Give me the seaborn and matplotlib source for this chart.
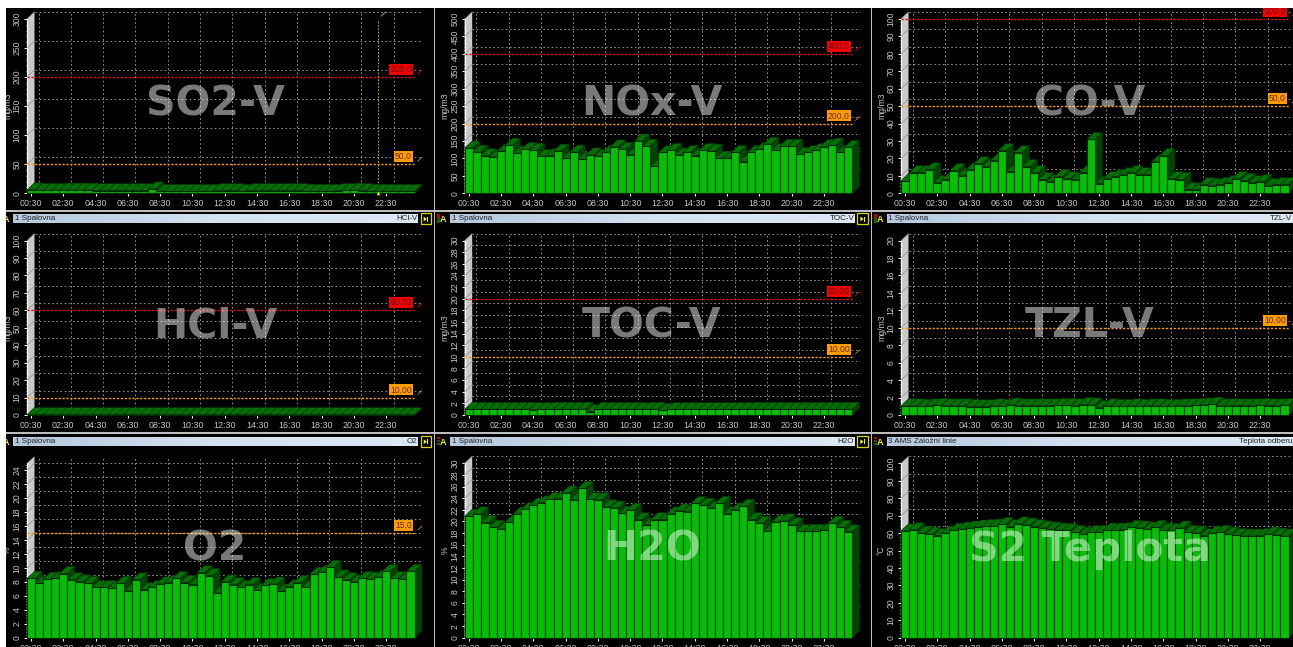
import matplotlib

matplotlib.use("Agg")
import matplotlib.pyplot as plt
import numpy as np
import pandas as pd
import seaborn as sns
from matplotlib.colors import LinearSegmentedColormap
from matplotlib.patches import Polygon, Rectangle
from matplotlib.ticker import AutoMinorLocator, MultipleLocator

W, H = 1293, 647

TIMES = [
    "00:30", "01:00", "01:30", "02:00", "02:30", "03:00", "03:30", "04:00",
    "04:30", "05:00", "05:30", "06:00", "06:30", "07:00", "07:30", "08:00",
    "08:30", "09:00", "09:30", "10:00", "10:30", "11:00", "11:30", "12:00",
    "12:30", "13:00", "13:30", "14:00", "14:30", "15:00", "15:30", "16:00",
    "16:30", "17:00", "17:30", "18:00", "18:30", "19:00", "19:30", "20:00",
    "20:30", "21:00", "21:30", "22:00", "22:30", "23:00", "23:30", "00:00",
]

SO2 = [6, 5, 5, 5, 5.5, 5.5, 5.5, 5.5, 4.5, 4.5, 4.5, 4.5,
       4.5, 4.5, 4.5, 7.5, 3.5, 3.5, 3.5, 3.5, 3.5, 3.5, 3.5, 4.5,
       4.5, 4.5, 3.5, 4.5, 4.5, 4.5, 4.5, 4.5, 4.5, 4.5, 3.5, 3.5,
       3.5, 3.5, 4.5, 5, 5.5, 4.5, 3.5, 3.5, 3.5, 3.5, 3.5, 3.5]
NOX = [130, 118, 108, 104, 121, 138, 115, 126, 123, 106, 108, 121,
       100, 118, 98, 110, 106, 118, 133, 126, 110, 150, 135, 77,
       117, 123, 110, 117, 108, 123, 121, 100, 101, 117, 91, 117,
       126, 141, 123, 135, 135, 112, 117, 123, 134, 138, 117, 132]
CO = [7.3, 11.8, 11.8, 13.5, 6.1, 7.8, 13, 10.1, 13.5, 17, 15.3, 18.7,
      24.4, 12.4, 23.3, 15.3, 11.8, 7.8, 6.7, 9.5, 8.4, 7.8, 11.8, 30.9,
      5.5, 8.4, 9.5, 10.7, 11.8, 10.7, 10.7, 18.1, 21.6, 8.4, 7.8, 2.1,
      2.1, 5, 4.4, 5, 6.1, 8.4, 7.3, 6.1, 6.7, 4.4, 5, 5]
HCL = [0.2, 0.2, 0.2, 0.2, 0.2, 0.2, 0.2, 0.2, 0.2, 0.2, 0.2, 0.2,
       0.2, 0.2, 0.2, 0.2, 0.2, 0.2, 0.2, 0.2, 0.2, 0.2, 0.2, 0.2,
       0.2, 0.2, 0.2, 0.2, 0.2, 0.2, 0.2, 0.2, 0.2, 0.2, 0.2, 0.2,
       0.2, 0.2, 0.2, 0.2, 0.2, 0.2, 0.2, 0.2, 0.2, 0.2, 0.2, 0.2]
TOC = [1.0, 1.0, 1.0, 1.0, 1.0, 1.0, 1.0, 1.0, 0.9, 0.95, 1.0, 1.0,
       1.0, 1.0, 1.0, 0.6, 1.0, 1.0, 1.0, 1.0, 1.0, 0.95, 1.0, 1.0,
       0.8, 0.95, 0.95, 0.95, 0.95, 0.95, 0.95, 0.95, 0.95, 0.95, 0.95, 1.0,
       1.0, 1.0, 1.0, 0.95, 0.95, 1.0, 0.95, 1.0, 1.0, 1.0, 1.0, 1.0]
TZL = [1.05, 1.05, 1.0, 1.05, 1.1, 1.05, 1.05, 1.05, 0.95, 0.95, 0.95, 1.05,
       1.0, 1.15, 1.05, 1.05, 1.05, 1.05, 1.05, 1.1, 1.1, 1.05, 1.2, 1.15,
       0.85, 1.05, 1.0, 1.0, 1.05, 1.0, 1.05, 1.05, 1.0, 1.0, 1.05, 1.05,
       1.1, 1.15, 1.25, 1.05, 1.05, 1.05, 1.05, 1.05, 1.1, 1.05, 1.05, 1.1]
O2 = [8.5, 7.8, 8.4, 8.5, 9.2, 8.3, 8.0, 7.8, 7.2, 7.2, 7.1, 7.8,
      6.7, 8.3, 6.9, 7.2, 7.7, 7.9, 8.5, 7.9, 7.6, 9.3, 8.9, 6.4,
      8.0, 7.6, 7.2, 7.6, 6.8, 7.5, 7.7, 6.7, 7.3, 7.9, 7.2, 9.1,
      9.4, 10.1, 8.7, 8.3, 8.0, 8.5, 8.4, 8.7, 9.5, 8.5, 8.4, 9.5]
H2O = [20.9, 21.3, 19.8, 19.0, 18.7, 19.9, 21.3, 22.1, 22.8, 23.2, 23.8, 23.9,
       24.9, 23.7, 25.7, 23.8, 23.7, 22.5, 22.3, 21.4, 21.9, 20.3, 19.4, 20.3,
       20.3, 21.3, 21.8, 21.7, 23.1, 22.8, 22.3, 23.1, 21.3, 22.0, 22.6, 20.3,
       19.7, 18.3, 19.9, 20.1, 19.4, 18.3, 18.3, 18.3, 18.5, 19.7, 19.0, 18.2]
S2 = [61.3, 61.9, 60, 59.4, 58.5, 60, 61.7, 62.3, 62.9, 63.5, 63.8, 64,
      65, 63.7, 65.2, 64.6, 63.7, 62.9, 62.3, 61.7, 61.5, 60.4, 59.4, 60.4,
      60.4, 61.7, 61.7, 61.9, 63.3, 62.9, 62.3, 63.3, 61.7, 61.5, 62.9, 60.4,
      60, 58.5, 60, 60.4, 59.4, 58.7, 58.3, 58.3, 58.5, 59.4, 58.8, 58.3]

SERIES = [SO2, NOX, CO, HCL, TOC, TZL, O2, H2O, S2]
NAMES = ["SO2-V", "NOx-V", "CO-V", "HCl-V", "TOC-V", "TZL-V", "O2", "H2O", "S2 Teplota"]
UNITS = ["mg/m3", "mg/m3", "mg/m3", "mg/m3", "mg/m3", "mg/m3", "%", "%", "°C"]
Y_MAX = [300, 500, 100, 100, 30, 20, 25, 30, 100]
Y_STEP = [50, 50, 10, 10, 2, 2, 2, 2, 10]
# (value, label, colour)
RED, ORANGE = "#f00000", "#ff9d00"
LIMITS = [
    [(200, "200,0", RED), (50, "50,0", ORANGE)],
    [(400, "400,0", RED), (200, "200,0", ORANGE)],
    [(100, "100,0", RED), (50, "50,0", ORANGE)],
    [(60, "60,00", RED), (10, "10,00", ORANGE)],
    [(20, "20,00", RED), (10, "10,00", ORANGE)],
    [(10, "10,00", ORANGE)],
    [(15, "15,0", ORANGE)],
    [],
    [],
]
SOURCE = [None, None, None, "1 Spalovna", "1 Spalovna", "1 Spalovna",
          "1 Spalovna", "1 Spalovna", "3 AMS Záložní linie"]
TAG = [None, None, None, "HCl-V", "TOC-V", "TZL-V", "O2", "H2O", "Teplota odberu"]
CURSOR_BAR = 43

COL_LEFT = [27, 464.7, 901]
ROW_BASE = [193.3, 415, 637.7]
PLOT_W, PLOT_H = 387.5, 174.4
DEPTH_X, DEPTH_Y = 7.5, 7
TEXT_X = [215, 652, 1090]
TEXT_Y = [104, 326, 549.5]
BAR_LEFT = [13, 450, 887]
BAR_RIGHT = [418, 854.7, 1293]
BAR_TOP = [None, 214, 436.7]
FONT = "Liberation Sans"
LABEL_COLOR = "#c4c4c4"
FRONT, TOP, SIDE, EDGE = "#00c000", "#007000", "#004400", "#002c00"

sns.set_theme(style="dark", rc={"axes.grid": False})
plt.rcParams["font.family"] = [FONT, "DejaVu Sans"]

fig = plt.figure(figsize=(W / 100, H / 100), dpi=100, facecolor="black")
bar_cmap = LinearSegmentedColormap.from_list("title", ["#b4c8de", "#d4e2f0", "#dce8f4"])


def box(x0, y0, x1, y1):
    # pixel box (y down) to figure rect
    return [x0 / W, 1 - y1 / H, (x1 - x0) / W, (y1 - y0) / H]


def fig_rect(x0, y0, x1, y1, zorder=5, **kw):
    l, b, w, h = box(x0, y0, x1, y1)
    fig.add_artist(Rectangle((l, b), w, h, transform=fig.transFigure, zorder=zorder, **kw))


def draw_panel(i):
    col, row = i % 3, i // 3
    ax = fig.add_axes(box(COL_LEFT[col], ROW_BASE[row] - PLOT_H, COL_LEFT[col] + PLOT_W, ROW_BASE[row]))
    ax.patch.set_visible(False)
    ymax = Y_MAX[i]
    df = pd.DataFrame({"time": TIMES, "value": SERIES[i]})
    sns.barplot(data=df, x="time", y="value", ax=ax, color=FRONT, saturation=1,
                width=1, edgecolor=EDGE, linewidth=0.8, errorbar=None)
    ax.set_xlim(-0.5, len(TIMES) - 0.5)
    ax.set_ylim(0, ymax)
    for s in ax.spines.values():
        s.set_visible(False)

    dx = DEPTH_X / (PLOT_W / len(TIMES))
    dy = DEPTH_Y / (PLOT_H / ymax)

    # 3d faces of each bar, painted left to right
    for k, p in enumerate(ax.patches):
        x0, w, h = p.get_x(), p.get_width(), p.get_height()
        p.set_zorder(3 + k + 0.5)
        p.set_clip_on(False)
        ax.add_patch(Polygon([(x0 + w, 0), (x0 + w + dx, dy), (x0 + w + dx, h + dy), (x0 + w, h)],
                             fc=SIDE, ec=EDGE, lw=0.4, zorder=3 + k, clip_on=False))
        ax.add_patch(Polygon([(x0, h), (x0 + dx, h + dy), (x0 + w + dx, h + dy), (x0 + w, h)],
                             fc=TOP, ec=EDGE, lw=0.4, zorder=3 + k, clip_on=False))

    # left wall and back-plane grid
    ax.add_patch(Polygon([(-0.5, 0), (-0.5, ymax), (-0.5 + dx, ymax + dy), (-0.5 + dx, dy)],
                         fc="#c9c9c9", ec="none", zorder=1.5, clip_on=False))
    ax.plot([-0.5, -0.5], [0, ymax], color="white", lw=0.9, zorder=1.6, clip_on=False)
    yvals = np.arange(Y_STEP[i], ymax + 0.01, Y_STEP[i])
    grid = dict(color="#a6a6a6", lw=0.6, ls=(0, (2, 3)), zorder=1, clip_on=False)
    right = len(TIMES) - 0.5 + dx
    for v in yvals:
        ax.plot([-0.5 + dx, right], [v + dy, v + dy], **grid)
        ax.plot([-0.5, -0.5 + dx], [v, v + dy], color="#909090", lw=0.5, zorder=1.7, clip_on=False)
    for t in range(0, len(TIMES), 4):
        ax.plot([t + dx, t + dx], [dy, ymax + dy], **grid)

    # limit lines on the front plane
    for value, text, color in LIMITS[i]:
        ax.plot([-0.5, len(TIMES) - 0.5], [value, value], color=color, lw=1.0,
                ls=(0, (1.6, 1.2)), zorder=2, clip_on=False)
        ax.plot([len(TIMES) - 0.5 + dx * 0.45, len(TIMES) - 0.5 + dx], [value + dy * 0.45, value + dy],
                color=color, lw=0.5, zorder=2, clip_on=False)
        ax.annotate(text, xy=(len(TIMES) - 0.5, value), xytext=(-2.5, 3.2), textcoords="offset pixels",
                    ha="right", va="bottom", fontsize=6.2, color="#6a2a00" if color == ORANGE else "#700000",
                    annotation_clip=False, zorder=80,
                    bbox=dict(boxstyle="square,pad=0.12", fc=color, ec="none"))

    if i == 0:
        cur = dict(color="#a8a800", lw=0.7, zorder=2, clip_on=False)
        ax.plot([CURSOR_BAR, CURSOR_BAR], [0, ymax], ls=(0, (2, 1.5)), **cur)
        ax.plot([CURSOR_BAR + dx * 0.4, CURSOR_BAR + dx], [ymax + dy * 0.4, ymax + dy], **cur)
        ax.plot([CURSOR_BAR], [0], marker="^", ms=2.6, color="#ffe000", mec="none",
                zorder=90, clip_on=False)

    ax.yaxis.set_major_locator(MultipleLocator(Y_STEP[i]))
    ax.yaxis.set_minor_locator(AutoMinorLocator(5))
    ax.tick_params(axis="y", which="major", left=True, length=2.2, width=0.7, color="white", pad=1.6,
                   labelsize=6.2, labelcolor=LABEL_COLOR, labelrotation=90)
    ax.tick_params(axis="y", which="minor", left=True, length=1.0, width=0.5, color="white")
    for t in ax.get_yticklabels():
        t.set_va("center")
    ax.set_xticks(range(0, len(TIMES), 4), TIMES[::4])
    ax.tick_params(axis="x", bottom=True, length=2.2, width=0.7, color="white", pad=2.0,
                   labelsize=6.4, labelcolor=LABEL_COLOR)
    ax.set_xlabel("")
    ax.set_ylabel(UNITS[i], fontsize=6.2, color=LABEL_COLOR)
    ax.yaxis.set_label_coords(-15 / PLOT_W, 0.5)

    fig.text(TEXT_X[col] / W, 1 - TEXT_Y[row] / H, NAMES[i], family="DejaVu Sans", weight="bold",
             fontsize=29.5, color="white", alpha=0.48, ha="center", va="center", zorder=6)

    # panel header strip
    if BAR_TOP[row] is not None:
        top = BAR_TOP[row]
        bar = fig.add_axes(box(BAR_LEFT[col], top, BAR_RIGHT[col], top + 9.3))
        bar.imshow(np.linspace(0, 1, 64)[None, :], cmap=bar_cmap, aspect="auto")
        bar.set_axis_off()
        fig.text((BAR_LEFT[col] + 1.5) / W, 1 - (top + 4.8) / H, SOURCE[i], fontsize=5.8, color="#222222",
                 va="center", zorder=7)
        fig.text((BAR_RIGHT[col] - 0.5) / W, 1 - (top + 4.8) / H, TAG[i], fontsize=5.8, color="#222222",
                 va="center", ha="right", zorder=7)
        bx = BAR_RIGHT[col] + 2.5
        if col < 2:
            fig_rect(bx, top - 0.5, bx + 10.5, top + 10, fc="black", ec="#d8d800", lw=0.9)
            l, b, w, h = box(bx + 3.2, top + 2.5, bx + 6.2, top + 7.5)
            fig.add_artist(Polygon([(l, b), (l, b + h), (l + w, b + h / 2)], transform=fig.transFigure,
                                   fc="#ffff00", ec="none", zorder=6))
            fig_rect(bx + 6.8, top + 2.5, bx + 7.8, top + 7.5, fc="#ffff00", ec="none", zorder=6)
        sx = BAR_LEFT[col] - 13 if col else 2
        for n, c in enumerate(["#c00000", "#404000", "#007000"]):
            fig_rect(sx, top + 0.3 + n * 3, sx + 2.6, top + 2.6 + n * 3, fc=c, ec="none")
        fig.text((BAR_LEFT[col] - 7) / W, 1 - (top + 5.5) / H, "A", fontsize=6.5, weight="bold",
                 color="#ffee00", ha="center", va="center", zorder=7)


for i in range(len(SERIES)):
    draw_panel(i)

# separators
SEP = "#bdbdbd"
for y in [210, 432.5]:
    fig_rect(0, y, W, y + 1.8, fc=SEP, ec="none", zorder=10)
for x in [433.5, 870.5]:
    fig_rect(x, 0, x + 1.6, H, fc=SEP, ec="none", zorder=10)
# white screenshot margin
fig_rect(0, 0, W, 8, fc="white", ec="none", zorder=20)
fig_rect(0, 0, 6, H, fc="white", ec="none", zorder=20)

fig.savefig("out.png", dpi=100, facecolor="black")
plt.close(fig)
